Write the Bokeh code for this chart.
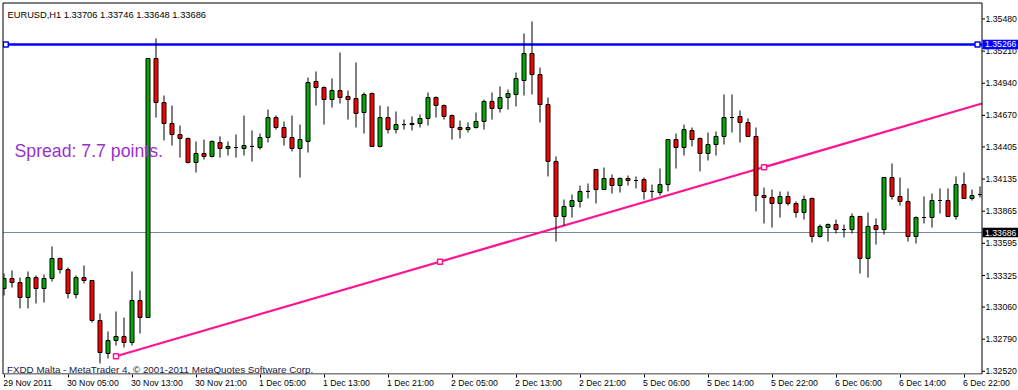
from bokeh.plotting import figure
from bokeh.models import Range1d, FixedTicker, LinearAxis, Label, ColumnDataSource
from bokeh.core.properties import value
from bokeh.embed import file_html
from bokeh.resources import INLINE
import numpy as np

# ---------------- data (EURUSD H1, bar index 0 = 29 Nov 2011 21:00) ----------------
bar_open = [
    1.33216, 1.33300, 1.33266, 1.33140, 1.33308, 1.33216, 1.33300, 1.33468, 1.33375, 1.33165,
    1.33308, 1.33283, 1.32947, 1.32670, 1.32779, 1.32813, 1.32762, 1.33115, 1.32972, 1.35148,
    1.34778, 1.34602, 1.34509, 1.34476, 1.34274, 1.34350, 1.34325, 1.34442, 1.34392, 1.34400,
    1.34392, 1.34409, 1.34400, 1.34484, 1.34652, 1.34568, 1.34484, 1.34392, 1.34451, 1.34955,
    1.34904, 1.34803, 1.34879, 1.34829, 1.34812, 1.34694, 1.34854, 1.34409, 1.34652, 1.34551,
    1.34593, 1.34593, 1.34602, 1.34644, 1.34820, 1.34753, 1.34669, 1.34568, 1.34551, 1.34568,
    1.34619, 1.34787, 1.34728, 1.34820, 1.34845, 1.34963, 1.35190, 1.35013, 1.34761, 1.34283,
    1.33821, 1.33905, 1.33947, 1.34031, 1.34215, 1.34047, 1.34140, 1.34081, 1.34140, 1.34123,
    1.34131, 1.34031, 1.34022, 1.34089, 1.34467, 1.34400, 1.34543, 1.34476, 1.34350, 1.34425,
    1.34493, 1.34652, 1.34661, 1.34610, 1.34493, 1.33997, 1.33980, 1.33930, 1.33989, 1.33930,
    1.33854, 1.33972, 1.33653, 1.33728, 1.33753, 1.33711, 1.33711, 1.33821, 1.33468, 1.33745,
    1.33711, 1.34148, 1.33989, 1.33947, 1.33653, 1.33812, 1.33812, 1.33955, 1.33955, 1.33821,
    1.34089, 1.33972, 1.34005,
]
bar_high = [
    1.33342, 1.33367, 1.33308, 1.33359, 1.33325, 1.33333, 1.33569, 1.33476, 1.33392, 1.33325,
    1.33409, 1.33283, 1.33006, 1.32855, 1.33023, 1.32972, 1.33359, 1.33199, 1.35148, 1.35316,
    1.34837, 1.34753, 1.34585, 1.34484, 1.34451, 1.34467, 1.34459, 1.34493, 1.34451, 1.34509,
    1.34669, 1.34543, 1.34518, 1.34719, 1.34669, 1.34619, 1.34669, 1.34593, 1.34988, 1.35039,
    1.34913, 1.34980, 1.35198, 1.34879, 1.35114, 1.34862, 1.34862, 1.34753, 1.34745, 1.34703,
    1.34635, 1.34661, 1.34677, 1.34862, 1.34829, 1.34761, 1.34677, 1.34627, 1.34610, 1.34694,
    1.34803, 1.34862, 1.34913, 1.34887, 1.35030, 1.35358, 1.35459, 1.35072, 1.34820, 1.34325,
    1.33963, 1.34005, 1.34081, 1.34098, 1.34215, 1.34232, 1.34173, 1.34148, 1.34165, 1.34157,
    1.34148, 1.34089, 1.34224, 1.34467, 1.34518, 1.34593, 1.34568, 1.34484, 1.34526, 1.34535,
    1.34845, 1.34845, 1.34711, 1.34644, 1.34568, 1.34064, 1.34047, 1.34031, 1.34031, 1.33947,
    1.33997, 1.33980, 1.33753, 1.33762, 1.33795, 1.33753, 1.33846, 1.33821, 1.33854, 1.33804,
    1.34148, 1.34266, 1.34148, 1.34056, 1.33821, 1.33989, 1.34014, 1.34056, 1.34056, 1.34157,
    1.34190, 1.34047, 1.34073,
]
bar_low = [
    1.33157, 1.33224, 1.33048, 1.33048, 1.33090, 1.33098, 1.33275, 1.33342, 1.33132, 1.33132,
    1.33258, 1.32930, 1.32586, 1.32628, 1.32737, 1.32720, 1.32737, 1.32838, 1.32972, 1.34652,
    1.34459, 1.34417, 1.34316, 1.34266, 1.34190, 1.34299, 1.34316, 1.34316, 1.34333, 1.34316,
    1.34333, 1.34283, 1.34383, 1.34442, 1.34551, 1.34417, 1.34367, 1.34148, 1.34358, 1.34753,
    1.34593, 1.34736, 1.34770, 1.34635, 1.34568, 1.34518, 1.34409, 1.34400, 1.34518, 1.34518,
    1.34551, 1.34543, 1.34568, 1.34585, 1.34652, 1.34635, 1.34467, 1.34476, 1.34526, 1.34560,
    1.34551, 1.34635, 1.34694, 1.34719, 1.34745, 1.34837, 1.34845, 1.34610, 1.34157, 1.33611,
    1.33745, 1.33812, 1.33896, 1.33972, 1.33930, 1.34047, 1.34014, 1.34022, 1.34081, 1.34056,
    1.33963, 1.33972, 1.33997, 1.34031, 1.34224, 1.34333, 1.34409, 1.34199, 1.34291, 1.34333,
    1.34425, 1.34526, 1.34442, 1.34493, 1.33863, 1.33762, 1.33728, 1.33812, 1.33913, 1.33812,
    1.33795, 1.33602, 1.33644, 1.33611, 1.33678, 1.33644, 1.33678, 1.33342, 1.33308, 1.33585,
    1.33669, 1.33963, 1.33913, 1.33611, 1.33594, 1.33762, 1.33728, 1.33846, 1.33821, 1.33795,
    1.33972, 1.33955, 1.33980,
]
bar_close = [
    1.33300, 1.33266, 1.33140, 1.33308, 1.33216, 1.33300, 1.33468, 1.33375, 1.33174, 1.33308,
    1.33283, 1.32947, 1.32678, 1.32779, 1.32813, 1.32762, 1.33115, 1.32972, 1.35148, 1.34778,
    1.34602, 1.34509, 1.34476, 1.34274, 1.34350, 1.34325, 1.34451, 1.34392, 1.34409, 1.34400,
    1.34417, 1.34409, 1.34484, 1.34652, 1.34568, 1.34484, 1.34392, 1.34467, 1.34946, 1.34904,
    1.34803, 1.34879, 1.34820, 1.34803, 1.34686, 1.34845, 1.34409, 1.34652, 1.34551, 1.34593,
    1.34593, 1.34602, 1.34644, 1.34820, 1.34753, 1.34661, 1.34568, 1.34551, 1.34568, 1.34619,
    1.34787, 1.34728, 1.34820, 1.34854, 1.34980, 1.35190, 1.35013, 1.34761, 1.34283, 1.33821,
    1.33905, 1.33955, 1.34031, 1.34031, 1.34047, 1.34140, 1.34081, 1.34140, 1.34123, 1.34123,
    1.34031, 1.34031, 1.34089, 1.34467, 1.34400, 1.34551, 1.34467, 1.34350, 1.34425, 1.34493,
    1.34652, 1.34652, 1.34610, 1.34493, 1.33997, 1.33980, 1.33930, 1.33989, 1.33930, 1.33854,
    1.33963, 1.33653, 1.33737, 1.33753, 1.33711, 1.33711, 1.33821, 1.33468, 1.33737, 1.33711,
    1.34148, 1.33989, 1.33947, 1.33653, 1.33812, 1.33812, 1.33955, 1.33955, 1.33821, 1.34089,
    1.33972, 1.33997, 1.34005,
]

tick_bars = [0, 8, 16, 24, 32, 40, 48, 56, 64, 72, 80, 88, 96, 104, 112, 120]
tick_dates = ["29 Nov 2011", "30 Nov 05:00", "30 Nov 13:00", "30 Nov 21:00", "1 Dec 05:00",
              "1 Dec 13:00", "1 Dec 21:00", "2 Dec 05:00", "2 Dec 13:00", "2 Dec 21:00",
              "5 Dec 06:00", "5 Dec 14:00", "5 Dec 22:00", "6 Dec 06:00", "6 Dec 14:00",
              "6 Dec 22:00"]
price_ticks = [1.35480, 1.35210, 1.34940, 1.34670, 1.34405, 1.34135, 1.33865, 1.33595,
               1.33325, 1.33060, 1.32790, 1.32520]

hline_price = 1.35266
bid_price = 1.33686
trend_bars = [14, 95]
trend_prices = [1.32647, 1.34235]

header_text = "EURUSD,H1  1.33706 1.33746 1.33648 1.33686"
spread_text = "Spread: 7.7 points."
footer_text = "FXDD Malta - MetaTrader 4, \u00a9 2001-2011 MetaQuotes Software Corp."

# ---------------- styling / layout ----------------
BULL = "#00AA00"
BEAR = "#FF0000"
HLINE = "#0000FF"
TREND = "#FF1493"
BIDC = "#778899"
FONT = "Liberation Sans"
AX_FS = 8.7

W, H = 1018, 390
FB = 16                 # bottom band for the time axis
BAR_PX = 8.0
BAR0_SX = 3.5           # screen x of bar 0 centre
PY0 = 1.35635           # price at canvas top
PPX = 0.000084          # price per pixel

X0 = (0 - BAR0_SX) / BAR_PX
X1 = (W - BAR0_SX) / BAR_PX
Y1 = PY0
Y0 = PY0 - PPX * (H - FB)


def dx(sx):
    return (sx - BAR0_SX) / BAR_PX


def dy(sy):
    return PY0 - PPX * sy


# chart box (MT4 window border)
BL, BR, BT, BBOT = dx(2.5), dx(981.5), dy(2.5), dy(373.5)

p = figure(width=W, height=H, output_backend="svg", toolbar_location=None,
           x_range=Range1d(X0, X1), y_range=Range1d(Y0, Y1),
           x_axis_location=None, y_axis_location=None,
           min_border_left=0, min_border_top=0, min_border_right=0, min_border_bottom=FB)
p.grid.visible = False
p.outline_line_color = None
p.background_fill_color = "white"
p.border_fill_color = "white"

# time axis: tick marks
xaxis = LinearAxis(ticker=FixedTicker(ticks=tick_bars, minor_ticks=[]),
                   major_tick_out=3, major_tick_in=0, minor_tick_out=0, minor_tick_in=0,
                   major_tick_line_color="black", axis_line_color=None,
                   major_label_standoff=0, major_label_text_font_size="1px",
                   major_label_text_alpha=0)
p.add_layout(xaxis, "below")

# time axis: left-aligned labels (label centre shifted by half its width)
CHAR_EM = {" ": 0.278, ":": 0.278, "N": 0.722, "o": 0.556, "v": 0.5, "D": 0.722,
           "e": 0.556, "c": 0.5}


def text_w(t):
    return sum(CHAR_EM.get(ch, 0.556) for ch in t) * AX_FS


label_pos = [b + (text_w(t) / 2 - 1.0) / BAR_PX for b, t in zip(tick_bars, tick_dates)]
xlab = LinearAxis(ticker=FixedTicker(ticks=label_pos, minor_ticks=[]),
                  major_label_overrides={lp: t for lp, t in zip(label_pos, tick_dates)},
                  major_tick_out=0, major_tick_in=0, minor_tick_out=0, minor_tick_in=0,
                  major_tick_line_color=None, axis_line_color=None,
                  major_label_standoff=0, major_label_text_font=FONT,
                  major_label_text_font_size="%.1fpx" % AX_FS, major_label_text_color="black")
p.add_layout(xlab, "below")

# horizontal lines
p.line([BL, BR], [bid_price, bid_price], line_color=BIDC, line_width=1)
p.line([BL, BR], [hline_price, hline_price], line_color=HLINE, line_width=2.6)

# trend line (ray to the right)
slope = (trend_prices[1] - trend_prices[0]) / (trend_bars[1] - trend_bars[0])
tx = [trend_bars[0], BR]
ty = [trend_prices[0], trend_prices[0] + slope * (BR - trend_bars[0])]
p.line(tx, ty, line_color=TREND, line_width=2.2)

# candles
o = np.array(bar_open)
c = np.array(bar_close)
colors = np.where(c > o, BULL, np.where(c < o, BEAR, "black"))
src = ColumnDataSource(dict(x=np.arange(len(o)), h=bar_high, l=bar_low,
                            top=np.maximum(o, c), bottom=np.minimum(o, c), color=colors))
p.segment(x0="x", y0="h", x1="x", y1="l", source=src, line_color="black", line_width=1)
p.vbar(x="x", width=0.5, top="top", bottom="bottom", source=src,
       fill_color="color", line_color="black", line_width=1)

# object anchor markers
mid_bar = (trend_bars[0] + trend_bars[1]) / 2
mid_price = (trend_prices[0] + trend_prices[1]) / 2
p.scatter([trend_bars[0], mid_bar, trend_bars[1]], [trend_prices[0], mid_price, trend_prices[1]],
          marker="square", size=5, fill_color="white", line_color=TREND, line_width=1.5)
p.scatter([dx(5.3), dx(977)], [hline_price, hline_price], marker="square", size=5,
          fill_color="white", line_color=HLINE, line_width=1.5)

# white masks outside the chart box
p.quad(left=[X0, BR, X0, X0], right=[BL, X1, X1, X1],
       bottom=[Y0, Y0, BT, Y0], top=[Y1, Y1, Y1, BBOT],
       fill_color="white", line_color=None)

# chart box border
p.line([BL, BR, BR, BL, BL], [BT, BT, BBOT, BBOT, BT], line_color="black", line_width=1)

# price scale on the right: tick marks and labels
p.segment(x0=[BR] * len(price_ticks), x1=[dx(984.5)] * len(price_ticks),
          y0=price_ticks, y1=price_ticks, line_color="black", line_width=1)
p.text(x=[dx(985)] * len(price_ticks), y=price_ticks, text=["%.5f" % v for v in price_ticks],
       text_font=value(FONT), text_font_size=value("%.1fpx" % AX_FS), text_color="black",
       text_baseline="middle", text_align="left")

# price boxes for the horizontal line and the bid line
box_half = 4.8 * PPX
p.quad(left=[dx(982), dx(982)], right=[X1, X1],
       bottom=[hline_price - box_half, bid_price - box_half],
       top=[hline_price + box_half, bid_price + box_half],
       fill_color=[HLINE, "black"], line_color=None)
p.text(x=[dx(984.5), dx(984.5)], y=[hline_price, bid_price],
       text=["%.5f" % hline_price, "%.5f" % bid_price],
       text_font=value(FONT), text_font_size=value("%.1fpx" % AX_FS), text_color="white",
       text_baseline="middle", text_align="left")

# texts
p.add_layout(Label(x=dx(7), y=dy(14.5), text=header_text, text_font=FONT,
                   text_font_size="9.3px", text_color="black", text_baseline="alphabetic"))
p.add_layout(Label(x=dx(6.5), y=dy(368.5), text=footer_text, text_font=FONT,
                   text_font_size="9.8px", text_color="#1a1a40", text_baseline="alphabetic"))
p.add_layout(Label(x=dx(14), y=dy(150), text=spread_text, text_font=FONT,
                   text_font_size="17.7px", text_color="#9932CC", text_baseline="alphabetic"))

open("out.html", "w", encoding="utf-8").write(file_html(p, INLINE))
